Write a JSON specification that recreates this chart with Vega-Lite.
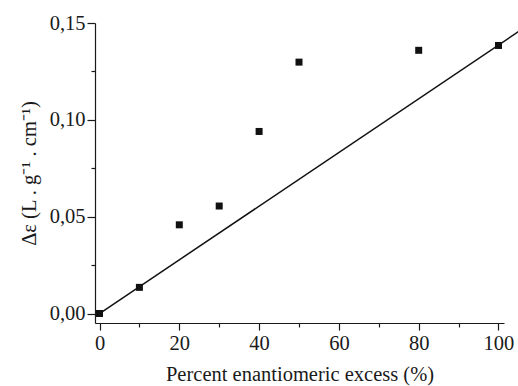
{
  "$schema": "https://vega.github.io/schema/vega-lite/v6.json",
  "autosize": "none",
  "width": 409,
  "height": 300,
  "padding": {"left": 95, "top": 23, "right": 14, "bottom": 63},
  "background": "white",
  "config": {
    "view": {"stroke": null},
    "font": "Liberation Serif",
    "axis": {
      "domainColor": "#1a1a1a",
      "domainWidth": 1.2,
      "tickColor": "#1a1a1a",
      "tickWidth": 1.2,
      "grid": false,
      "labelFont": "Liberation Serif",
      "labelFontSize": 20.5,
      "labelColor": "#1a1a1a",
      "titleFont": "Liberation Serif",
      "titleFontSize": 20.5,
      "titleFontWeight": "normal",
      "titleColor": "#1a1a1a"
    }
  },
  "datasets": {
    "measured": [
      {"ee": 0, "de": 0.0},
      {"ee": 10, "de": 0.0135},
      {"ee": 20, "de": 0.0458},
      {"ee": 30, "de": 0.0555},
      {"ee": 40, "de": 0.094},
      {"ee": 50, "de": 0.1298},
      {"ee": 80, "de": 0.1359},
      {"ee": 100, "de": 0.1384}
    ],
    "fit": [
      {"ee": 0, "de": 0.0},
      {"ee": 105, "de": 0.14553}
    ]
  },
  "layer": [
    {
      "data": {"name": "fit"},
      "mark": {"type": "line", "color": "#111111", "strokeWidth": 1.5, "clip": false},
      "encoding": {
        "x": {"field": "ee", "type": "quantitative"},
        "y": {"field": "de", "type": "quantitative"}
      }
    },
    {
      "data": {"name": "measured"},
      "mark": {"type": "square", "size": 49, "color": "#111111", "opacity": 1, "clip": false},
      "encoding": {
        "x": {
          "field": "ee",
          "type": "quantitative",
          "scale": {"domain": [-1.13, 101.38], "nice": false, "zero": false},
          "axis": {
            "title": "Percent enantiomeric excess (%)",
            "values": [0, 10, 20, 30, 40, 50, 60, 70, 80, 90, 100],
            "labelExpr": "datum.value % 20 === 0 ? format(datum.value, 'd') : ''",
            "tickSize": {"condition": {"test": "datum.value % 20 === 0", "value": 7}, "value": 4},
            "labelPadding": 3,
            "titlePadding": 11
          }
        },
        "y": {
          "field": "de",
          "type": "quantitative",
          "scale": {"domain": [-0.0049, 0.15], "nice": false, "zero": false},
          "axis": {
            "title": "Δε (L . g⁻¹ . cm⁻¹)",
            "values": [0, 0.025, 0.05, 0.075, 0.1, 0.125, 0.15],
            "labelExpr": "round(datum.value * 1000) % 50 === 0 ? replace(format(datum.value, '.2f'), '.', ',') : ''",
            "tickSize": {"condition": {"test": "round(datum.value * 1000) % 50 === 0", "value": 8}, "value": 4},
            "labelPadding": 2,
            "titlePadding": 10
          }
        }
      }
    }
  ]
}
